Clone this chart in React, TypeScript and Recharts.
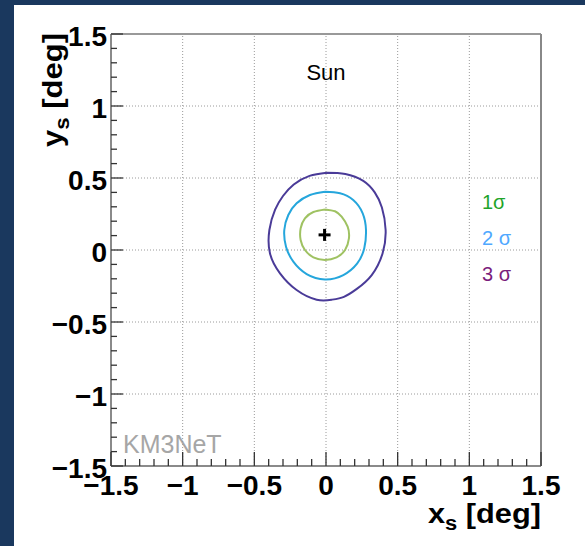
import React from "react";
import {
  ReferenceLine,
  Scatter,
  ScatterChart,
  XAxis,
  YAxis,
} from "recharts";

// axis ticks (degrees), minor every 0.1
const xTicks = [
  -1.5, -1.4, -1.3, -1.2, -1.1, -1, -0.9, -0.8, -0.7, -0.6, -0.5, -0.4, -0.3,
  -0.2, -0.1, 0, 0.1, 0.2, 0.3, 0.4, 0.5, 0.6, 0.7, 0.8, 0.9, 1, 1.1, 1.2, 1.3,
  1.4, 1.5,
];
const yTicks = xTicks;
const gridLines = [-1, -0.5, 0, 0.5, 1];

// sun position fit
const sunFit = [{ x: -0.01, y: 0.105 }];

// confidence contours
const contour1 = [
  { x: -0.007, y: 0.282 },
  { x: -0.088, y: 0.264 },
  { x: -0.147, y: 0.22 },
  { x: -0.177, y: 0.15 },
  { x: -0.177, y: 0.069 },
  { x: -0.147, y: 0.0 },
  { x: -0.088, y: -0.051 },
  { x: -0.007, y: -0.069 },
  { x: 0.074, y: -0.051 },
  { x: 0.133, y: 0.0 },
  { x: 0.16, y: 0.081 },
  { x: 0.151, y: 0.162 },
  { x: 0.109, y: 0.231 },
  { x: 0.063, y: 0.269 },
  { x: -0.007, y: 0.282 },
];

const contour2 = [
  { x: -0.007, y: 0.405 },
  { x: -0.112, y: 0.382 },
  { x: -0.205, y: 0.324 },
  { x: -0.263, y: 0.243 },
  { x: -0.291, y: 0.139 },
  { x: -0.279, y: 0.023 },
  { x: -0.228, y: -0.081 },
  { x: -0.135, y: -0.167 },
  { x: -0.007, y: -0.204 },
  { x: 0.121, y: -0.174 },
  { x: 0.218, y: -0.093 },
  { x: 0.267, y: 0.012 },
  { x: 0.279, y: 0.139 },
  { x: 0.256, y: 0.255 },
  { x: 0.19, y: 0.347 },
  { x: 0.098, y: 0.394 },
  { x: -0.007, y: 0.405 },
];

const contour3 = [
  { x: 0.005, y: 0.537 },
  { x: -0.115, y: 0.515 },
  { x: -0.225, y: 0.455 },
  { x: -0.3, y: 0.375 },
  { x: -0.355, y: 0.28 },
  { x: -0.395, y: 0.139 },
  { x: -0.391, y: -0.023 },
  { x: -0.321, y: -0.162 },
  { x: -0.205, y: -0.278 },
  { x: -0.065, y: -0.345 },
  { x: 0.04, y: -0.345 },
  { x: 0.125, y: -0.325 },
  { x: 0.215, y: -0.27 },
  { x: 0.319, y: -0.174 },
  { x: 0.395, y: -0.023 },
  { x: 0.416, y: 0.139 },
  { x: 0.39, y: 0.295 },
  { x: 0.34, y: 0.4 },
  { x: 0.26, y: 0.48 },
  { x: 0.135, y: 0.528 },
  { x: 0.005, y: 0.537 },
];

const legendLabels = ["1\u03c3", "2 \u03c3", "3 \u03c3"];

const FONT = '"Liberation Sans", Arial, Helvetica, sans-serif';

const isMajor = (v: number) => Math.abs(v * 2 - Math.round(v * 2)) < 1e-6;
const fmt = (v: number) =>
  v < 0 ? "\u2212" + String(Math.abs(v)) : String(v);

const XTick = (props: any) => {
  const { x, y, payload } = props;
  const major = isMajor(payload.value);
  return (
    <g>
      <line
        x1={x}
        x2={x}
        y1={y}
        y2={y - (major ? 14 : 7)}
        stroke="#333"
        strokeWidth={1.3}
      />
      {major && (
        <text
          x={x}
          y={y + 29}
          textAnchor="middle"
          fontFamily={FONT}
          fontWeight="bold"
          fontSize={28}
          fill="#000"
        >
          {fmt(payload.value)}
        </text>
      )}
    </g>
  );
};

const YTick = (props: any) => {
  const { x, y, payload } = props;
  const major = isMajor(payload.value);
  return (
    <g>
      <line
        x1={x}
        x2={x + (major ? 12 : 6)}
        y1={y}
        y2={y}
        stroke="#333"
        strokeWidth={1.3}
      />
      {major && (
        <text
          x={x - 4}
          y={y + 12}
          textAnchor="end"
          fontFamily={FONT}
          fontWeight="bold"
          fontSize={28}
          fill="#000"
        >
          {fmt(payload.value)}
        </text>
      )}
    </g>
  );
};

const NoDot = () => <g />;

const Cross = (props: any) => {
  const { cx, cy } = props;
  return (
    <g stroke="#000" strokeWidth={3}>
      <line x1={cx - 6} x2={cx + 6} y1={cy} y2={cy} />
      <line x1={cx} x2={cx} y1={cy - 6} y2={cy + 6} />
    </g>
  );
};

const XTitle = (props: any) => {
  const { viewBox } = props;
  const right = viewBox.x + viewBox.width;
  return (
    <text
      x={right - 113}
      y={viewBox.y + 57}
      textLength={113}
      lengthAdjust="spacingAndGlyphs"
      fontFamily={FONT}
      fontWeight="bold"
      fontSize={28}
      fill="#000"
    >
      x
      <tspan fontSize={20} dy={7}>
        s
      </tspan>
      <tspan dy={-7}> [deg]</tspan>
    </text>
  );
};

const YTitle = (props: any) => {
  const { viewBox } = props;
  const bx = 62;
  const by = viewBox.y - 1;
  return (
    <text
      transform={`translate(${bx},${by}) rotate(-90)`}
      x={-114}
      y={0}
      textLength={114}
      lengthAdjust="spacingAndGlyphs"
      fontFamily={FONT}
      fontWeight="bold"
      fontSize={28}
      fill="#000"
    >
      y
      <tspan fontSize={20} dy={7}>
        s
      </tspan>
      <tspan dy={-7}> [deg]</tspan>
    </text>
  );
};

export default function App() {
  return (
    <div
      style={{
        position: "absolute",
        left: 0,
        top: 0,
        width: 585,
        height: 546,
        background: "#1a385e",
        overflow: "hidden",
      }}
    >
      <div
        style={{
          position: "absolute",
          left: 14,
          top: 5,
          width: 571,
          height: 541,
          background: "#fff",
        }}
      />
      <div style={{ position: "absolute", left: 0, top: 0 }}>
        <ScatterChart
          width={585}
          height={546}
          margin={{ top: 34, right: 44, left: 0, bottom: 0 }}
        >
          <XAxis
            type="number"
            dataKey="x"
            domain={[-1.5, 1.5]}
            ticks={xTicks}
            interval={0}
            height={80}
            tickSize={0}
            tickMargin={0}
            tickLine={false}
            tick={<XTick />}
            axisLine={{ stroke: "#8a8a8a", strokeWidth: 2 }}
            label={{ content: <XTitle /> }}
          />
          <YAxis
            type="number"
            dataKey="y"
            domain={[-1.5, 1.5]}
            ticks={yTicks}
            interval={0}
            width={111}
            tickSize={0}
            tickMargin={0}
            tickLine={false}
            tick={<YTick />}
            axisLine={{ stroke: "#8a8a8a", strokeWidth: 2 }}
            label={{ content: <YTitle /> }}
          />
          {gridLines.map((v) => (
            <ReferenceLine
              key={"gx" + v}
              x={v}
              stroke="#9a9a9a"
              strokeDasharray="1 2"
              strokeWidth={1}
            />
          ))}
          {gridLines.map((v) => (
            <ReferenceLine
              key={"gy" + v}
              y={v}
              stroke="#9a9a9a"
              strokeDasharray="1 2"
              strokeWidth={1}
            />
          ))}
          <ReferenceLine y={1.5} stroke="#999" strokeWidth={2} ifOverflow="visible" />
          <ReferenceLine x={1.5} stroke="#888" strokeWidth={2} ifOverflow="visible" />
          <Scatter
            data={contour3}
            line={{ stroke: "#4a3b98", strokeWidth: 2 }}
            lineJointType="natural"
            shape={<NoDot />}
            fill="none"
            isAnimationActive={false}
          />
          <Scatter
            data={contour2}
            line={{ stroke: "#25a6dc", strokeWidth: 2 }}
            lineJointType="natural"
            shape={<NoDot />}
            fill="none"
            isAnimationActive={false}
          />
          <Scatter
            data={contour1}
            line={{ stroke: "#9fc262", strokeWidth: 2 }}
            lineJointType="natural"
            shape={<NoDot />}
            fill="none"
            isAnimationActive={false}
          />
          <Scatter
            data={sunFit}
            shape={<Cross />}
            isAnimationActive={false}
          />
          <text
            x={326}
            y={80}
            textAnchor="middle"
            fontFamily={FONT}
            fontSize={22}
            fill="#000"
          >
            Sun
          </text>
          <text x={123} y={453} fontFamily={FONT} fontSize={25} fill="#a6a6a6">
            KM3NeT
          </text>
          <text x={482} y={209} fontFamily={FONT} fontSize={20} fill="#1fa42a">
            {legendLabels[0]}
          </text>
          <text x={482} y={245} fontFamily={FONT} fontSize={20} fill="#4fa8ff">
            {legendLabels[1]}
          </text>
          <text x={482} y={281} fontFamily={FONT} fontSize={20} fill="#7a1d7c">
            {legendLabels[2]}
          </text>
        </ScatterChart>
      </div>
    </div>
  );
}
